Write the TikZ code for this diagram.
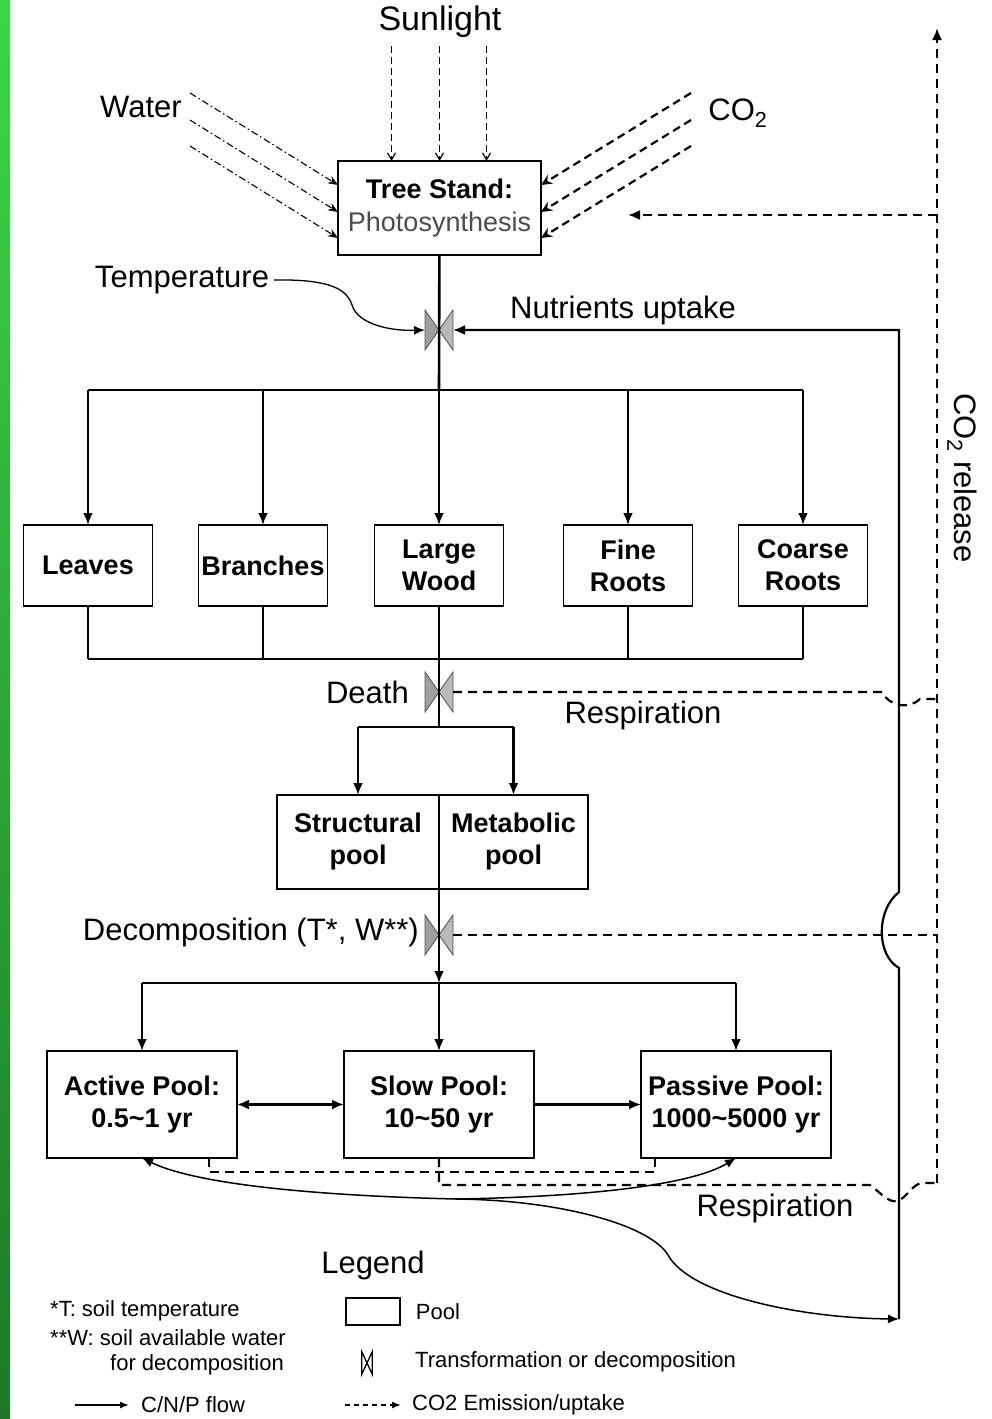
\documentclass[tikz,border=0pt]{standalone}
\usepackage{fontspec}
\setmainfont{Liberation Sans}
\usetikzlibrary{positioning,arrows.meta}

\begin{document}
\begin{tikzpicture}[x=1pt, y=-1pt,
  box/.style={draw, line width=1.7pt, inner sep=0pt, outer sep=0pt, align=center, font=\fontsize{27}{32}\selectfont\bfseries},
  part/.style={box, minimum width=129pt, minimum height=81pt},
  pool/.style={box, minimum width=190pt, minimum height=107pt},
  lbl/.style={inner sep=0pt, font=\fontsize{31}{35}\selectfont},
  note/.style={inner sep=0pt, anchor=west, font=\fontsize{22}{26}\selectfont},
  valve/.style={minimum width=28pt, minimum height=40pt, inner sep=0pt, outer sep=0pt},
  line/.style={line width=2.6pt},
  flow/.style={line width=2.6pt, -{Latex[length=12pt,width=10pt]}},
  thinflow/.style={line width=1.5pt, -{Latex[length=11pt,width=9pt]}},
  resp/.style={line width=2.2pt, dash pattern=on 9pt off 6pt},
  sun/.style={line width=1.2pt, dash pattern=on 7pt off 4pt, -{Straight Barb[length=7pt,width=8pt]}},
  water/.style={line width=1.1pt, dash pattern=on 7pt off 3pt on 1.5pt off 3pt, -{Stealth[length=10pt,width=8pt]}},
  gas/.style={line width=2.2pt, dash pattern=on 8pt off 5pt, -{Stealth[length=11pt,width=10pt]}}]

  \useasboundingbox (0,0) rectangle (992,1419);
  \fill[white] (0,0) rectangle (992,1419);
  \shade[top color={rgb,255:red,60;green,214;blue,72}, bottom color={rgb,255:red,30;green,120;blue,40}] (0,0) rectangle (10,1419);

  % inputs to the tree stand
  \node[box, minimum width=203pt, minimum height=94pt, font=\fontsize{27}{33}\selectfont] (tree) at (439.5,208) {\textbf{Tree Stand:}\\\textcolor{black!70}{Photosynthesis}};
  \node[lbl, font=\fontsize{34}{38}\selectfont] (sunlight) at (440,22) {Sunlight};
  \node[lbl] (water) at (141,107) {Water};
  \node[lbl] (co2) at (738,113) {CO\textsubscript{2}};
  \foreach \dx in {-48,0,47}
    \draw[sun] ([xshift=\dx pt, yshift=115pt]tree.north) -- ([xshift=\dx pt]tree.north);
  \foreach \dy in {23,-4,-30}
    \draw[water] ([shift={(-148pt,92pt)}, yshift=\dy pt]tree.west) -- ([yshift=\dy pt]tree.west);
  \foreach \dy in {23,-4,-30}
    \draw[gas] ([shift={(150pt,92pt)}, yshift=\dy pt]tree.east) -- ([yshift=\dy pt]tree.east);

  \node[lbl] (temp) at (182,280) {Temperature};
  \node[lbl] (nutr) at (623,310) {Nutrients uptake};
  \node[valve] (v1) at (439,330) {};

  % biomass compartments
  \node[part] (leaves) at (88,565.5) {Leaves};
  \node[part, right=46pt of leaves] (branches) {Branches};
  \node[part, right=47pt of branches] (wood) {Large\\Wood};
  \node[part, right=60pt of wood] (fine) {Fine\\Roots};
  \node[part, right=46pt of fine] (coarse) {Coarse\\Roots};

  \node[valve] (v2) at (439,692) {};
  \node[lbl, anchor=east] (death) at (409,692) {Death};
  \node[lbl] (resp1) at (643,715) {Respiration};

  \node[box, minimum width=162pt, minimum height=94pt] (struct) at (358,842) {Structural\\pool};
  \node[box, minimum width=149pt, minimum height=94pt, right=0pt of struct] (metab) {Metabolic\\pool};

  \node[valve] (v3) at (439,935) {};
  \node[lbl, anchor=east] (decomp) at (419,932) {Decomposition (T*, W**)};

  % soil pools
  \node[pool] (active) at (142,1104.5) {Active Pool:\\0.5\textasciitilde1 yr};
  \node[pool, right=107pt of active] (slow) {Slow Pool:\\10\textasciitilde50 yr};
  \node[pool, right=107pt of slow] (passive) {Passive Pool:\\1000\textasciitilde5000 yr};
  \node[lbl] (resp2) at (775,1208) {Respiration};
  \node[lbl, rotate=-90] (release) at (962,478) {CO\textsubscript{2} release};

  \coordinate (split1) at (439,390);
  \coordinate (join1) at (439,659);
  \coordinate (split2) at (439,727);
  \coordinate (split3) at (439,983);
  \coordinate (ncorner) at (899,330);
  \coordinate (nbot) at (899,1319);
  \coordinate (rtop) at (937,28);
  \coordinate (rbot) at (937,1183);
  \coordinate (uptake) at (628,215);
  \coordinate (merge) at (456,1199);

  \foreach \v in {v1,v2,v3}{
    \filldraw[fill=gray!75, draw=black!65, line width=0.9pt] (\v.north west) -- (\v.center) -- (\v.south west) -- cycle;
    \filldraw[fill=gray!55, draw=black!65, line width=0.9pt] (\v.north east) -- (\v.center) -- (\v.south east) -- cycle;
  }

  % carbon / nutrient flows
  \draw[line] (tree) -- (split1);
  \draw[line] (leaves.north |- split1) -- (coarse.north |- split1);
  \foreach \n in {leaves,branches,wood,fine,coarse}
    \draw[flow] (\n.north |- split1) -- (\n.north);
  \foreach \n in {leaves,branches,fine,coarse}
    \draw[line] (\n.south) -- (\n.south |- join1);
  \draw[line] (leaves.south |- join1) -- (coarse.south |- join1);
  \draw[line] (wood.south) -- (split2);
  \draw[line] (split2 -| struct.north) -- (split2 -| metab.north);
  \draw[flow] (split2 -| struct.north) -- (struct.north);
  \draw[flow] (split2 -| metab.north) -- (metab.north);
  \draw[flow] (struct.south east) -- (split3);
  \draw[line] (split3 -| active.north) -- (split3 -| passive.north);
  \foreach \n in {active,slow,passive}
    \draw[flow] (split3 -| \n.north) -- (\n.north);
  \draw[line width=2.2pt, {Latex[length=12pt,width=10pt]}-{Latex[length=12pt,width=10pt]}] (active) -- (slow);
  \draw[line width=2.2pt, -{Latex[length=12pt,width=10pt]}] (slow) -- (passive);

  \draw[line width=1.3pt, -{Latex[length=11pt,width=9pt]}] ([xshift=5pt]temp.east) .. controls (332,279) and (347,290) .. (352,305) .. controls (358,325) and (392,331) .. (v1.west);
  \draw[line width=2.2pt, -{Latex[length=12pt,width=10pt]}] (nbot) -- (899,968) .. controls (876,955) and (876,910) .. (899,892) -- (ncorner) -- (v1.east);
  \draw[thinflow] (merge) .. controls (330,1196) and (200,1186) .. (active.south);
  \draw[thinflow] (merge) .. controls (580,1197) and (690,1186) .. (passive.south);
  \draw[thinflow] (merge) .. controls (560,1200) and (650,1225) .. (668,1255) .. controls (690,1295) and (800,1318) .. (nbot);

  % respiration
  \draw[resp, -{Latex[length=12pt,width=10pt]}] (rbot) -- (rtop);
  \draw[resp, -{Latex[length=12pt,width=10pt]}] (uptake -| rtop) -- (uptake);
  \draw[resp] (v2.east) -- (882,692) .. controls (889,706) and (908,710) .. (920,699) -- (937,699);
  \draw[resp] (v3.east) -- (v3 -| rtop);
  \draw[resp] ([xshift=-28pt]active.south east) -- ++(0,14) -| ([xshift=14pt]passive.south west);
  \draw[resp] (slow.south) |- (870,1185) .. controls (880,1192) and (888,1203) .. (897,1201) .. controls (906,1199) and (912,1184) .. (922,1183) -- (rbot);

  % legend
  \node[lbl] (legend) at (373,1265) {Legend};
  \node[draw, line width=1.4pt, minimum width=54pt, minimum height=27pt, inner sep=0pt] (lpool) at (373,1311.5) {};
  \node[note, right=15pt of lpool] (lpooltxt) {Pool};
  \node[minimum width=10pt, minimum height=22pt, inner sep=0pt] (lvalve) at (367,1363) {};
  \draw[line width=1.3pt] (lvalve.north west) -- (lvalve.south east) -- (lvalve.north east) -- (lvalve.south west) -- cycle;
  \node[note] (ltrans) at (415,1362) {Transformation or decomposition};
  \node[note] (tnote) at (50,1311) {*T: soil temperature};
  \node[note] (wnote) at (50,1338) {**W: soil available water};
  \node[note] (wnote2) at (110,1365) {for decomposition};
  \node[note] (cnp) at (141,1405) {C/N/P flow};
  \draw[line width=1.5pt, -{Latex[length=9pt,width=7pt]}] ([xshift=-66pt]cnp.west) -- ([xshift=-12pt]cnp.west);
  \node[note] (emis) at (412,1405) {CO2 Emission/uptake};
  \draw[line width=1.5pt, dash pattern=on 5pt off 4pt, -{Latex[length=9pt,width=7pt]}] ([xshift=-67pt]emis.west) -- ([xshift=-11pt]emis.west);
\end{tikzpicture}
\end{document}
